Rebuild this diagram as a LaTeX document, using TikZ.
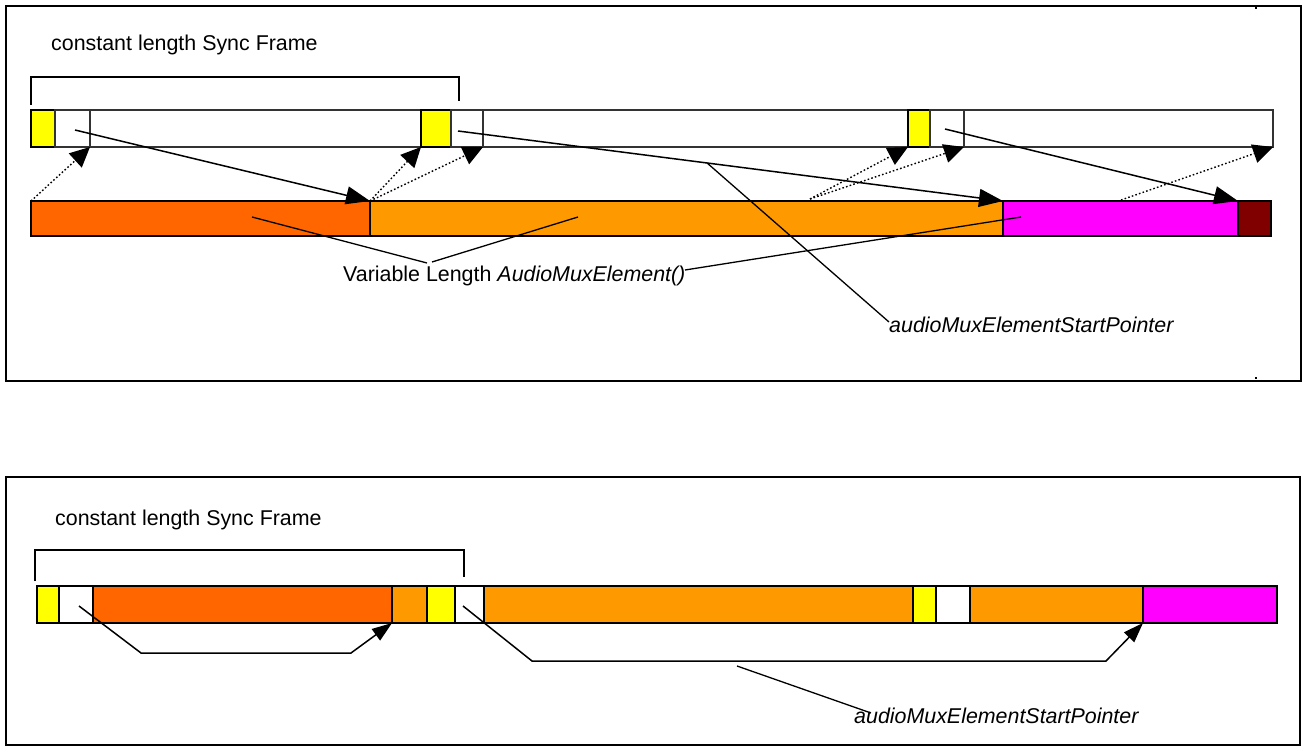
\documentclass[tikz,border=0pt]{standalone}
\usepackage{fontspec}
\setmainfont{Liberation Sans}
\usetikzlibrary{arrows.meta}
\definecolor{syncyellow}{HTML}{FFFF00}
\definecolor{darkorng}{HTML}{FF6600}
\definecolor{orng}{HTML}{FF9900}
\definecolor{magent}{HTML}{FF00FF}
\definecolor{darkred}{HTML}{800000}
\newcommand\mkseg[6]{\node[seg,#6,minimum width={(#4-#2)*1pt},minimum height={(#5-#3)*1pt}] (#1) at (#2,#3) {};}
\begin{document}
\begin{tikzpicture}[x=1pt,y=-1pt,
  seg/.style={draw,inner sep=0pt,outer sep=0pt,anchor=north west,line width=1.4pt},
  topseg/.style={line width=1.2pt,draw=black!80},
  frame/.style={draw,line width=2pt},
  bracket/.style={draw,line width=1.5pt},
  arr/.style={line width=1.5pt,-{Triangle[length=24pt,width=18pt]}},
  dotarr/.style={line width=1.4pt,dash pattern=on 1.6pt off 2.2pt,-{Triangle[length=20pt,width=19pt]}},
  barr/.style={line width=1.5pt,-{Triangle[length=20pt,width=14pt]}},
  leader/.style={line width=1.3pt},
  lbl/.style={inner sep=0pt,anchor=base west,font=\fontsize{21.4}{25}\selectfont}]
\useasboundingbox (0,0) rectangle (1305,751);
% ---------- top panel ----------
\draw[frame] (6,6) rectangle (1301,381);
\fill (1255,7) rectangle (1257,9);
\fill (1255,377) rectangle (1257,379);
\node[lbl] (t1) at (51,51) {constant length Sync Frame};
\draw[bracket] (31,105) -- (31,77) -- (459,77) -- (459,101);
% top bar
\mkseg{ya}{31}{110}{55}{147}{fill=syncyellow}
\mkseg{wa}{55}{110}{90}{147}{fill=white,topseg}
\mkseg{la}{90}{110}{421}{147}{fill=white,topseg}
\mkseg{yb}{421}{110}{451}{147}{fill=syncyellow}
\mkseg{wb}{451}{110}{483}{147}{fill=white,topseg}
\mkseg{lb}{483}{110}{908}{147}{fill=white,topseg}
\mkseg{yc}{908}{110}{930}{147}{fill=syncyellow}
\mkseg{wc}{930}{110}{964}{147}{fill=white,topseg}
\mkseg{lc}{964}{110}{1273}{147}{fill=white,topseg}
% element bar
\mkseg{ea}{31}{201}{370}{236}{fill=darkorng}
\mkseg{eb}{370}{201}{1003}{236}{fill=orng}
\mkseg{ec}{1003}{201}{1238}{236}{fill=magent}
\mkseg{ed}{1238}{201}{1271}{236}{fill=darkred}
% pointers
\coordinate (s1) at (75,130);
\coordinate (s2) at (458,131);
\coordinate (s3) at (945,129);
\draw[arr] (s1) -- (ea.north east);
\draw[arr] (s2) -- (eb.north east);
\draw[arr] (s3) -- (ec.north east);
% dotted
\coordinate (d4) at (810,199);
\coordinate (d6) at (1121,200);
\draw[dotarr] (ea.north west) -- (wa.south east);
\draw[dotarr] (ea.north east) -- (yb.south west);
\draw[dotarr] (ea.north east) -- (wb.south east);
\draw[dotarr] (d4) -- (yc.south west);
\draw[dotarr] (d4) -- (wc.south east);
\draw[dotarr] (d6) -- (lc.south east);
% labels
\node[lbl] (vl) at (343,281) {Variable Length \textit{AudioMuxElement()}};
\coordinate (la1) at (252,217);
\coordinate (la2) at (578,217);
\coordinate (la3) at (1021,217);
\coordinate (lv1) at (427,263);
\coordinate (lv2) at (432,262);
\coordinate (lv3) at (685,270);
\draw[leader] (la1) -- (lv1);
\draw[leader] (la2) -- (lv2);
\draw[leader] (la3) -- (lv3);
\node[lbl] (p1) at (889,332) {\textit{audioMuxElementStartPointer}};
\path (s2) -- (eb.north east) coordinate[pos=0.457] (pp);
\coordinate (pe) at (889,322);
\draw[leader] (pp) -- (pe);
% ---------- bottom panel ----------
\draw[frame] (6,477) rectangle (1300,745);
\node[lbl] (t2) at (55,525) {constant length Sync Frame};
\draw[bracket] (35,581) -- (35,550) -- (464,550) -- (464,577);
\mkseg{by1}{37}{586}{59}{623}{fill=syncyellow}
\mkseg{bw1}{59}{586}{93}{623}{fill=white}
\mkseg{bdo}{93}{586}{392}{623}{fill=darkorng}
\mkseg{bo1}{392}{586}{427}{623}{fill=orng}
\mkseg{by2}{427}{586}{455}{623}{fill=syncyellow}
\mkseg{bw2}{455}{586}{484}{623}{fill=white}
\mkseg{bo2}{484}{586}{913}{623}{fill=orng}
\mkseg{by3}{913}{586}{936}{623}{fill=syncyellow}
\mkseg{bw3}{936}{586}{970}{623}{fill=white}
\mkseg{bo3}{970}{586}{1143}{623}{fill=orng}
\mkseg{bm}{1143}{586}{1277}{623}{fill=magent}
\coordinate (bs1) at (79,606);
\coordinate (bs2) at (463,606);
\draw[barr] (bs1) -- (141,653) -- (351,653) -- (bdo.south east);
\draw[barr] (bs2) -- (532,661) -- (1106,661) -- (bo3.south east);
\node[lbl] (p2) at (854,723) {\textit{audioMuxElementStartPointer}};
\coordinate (bl1) at (737,666);
\coordinate (bl2) at (871,713);
\draw[leader] (bl1) -- (bl2);
\end{tikzpicture}
\end{document}
